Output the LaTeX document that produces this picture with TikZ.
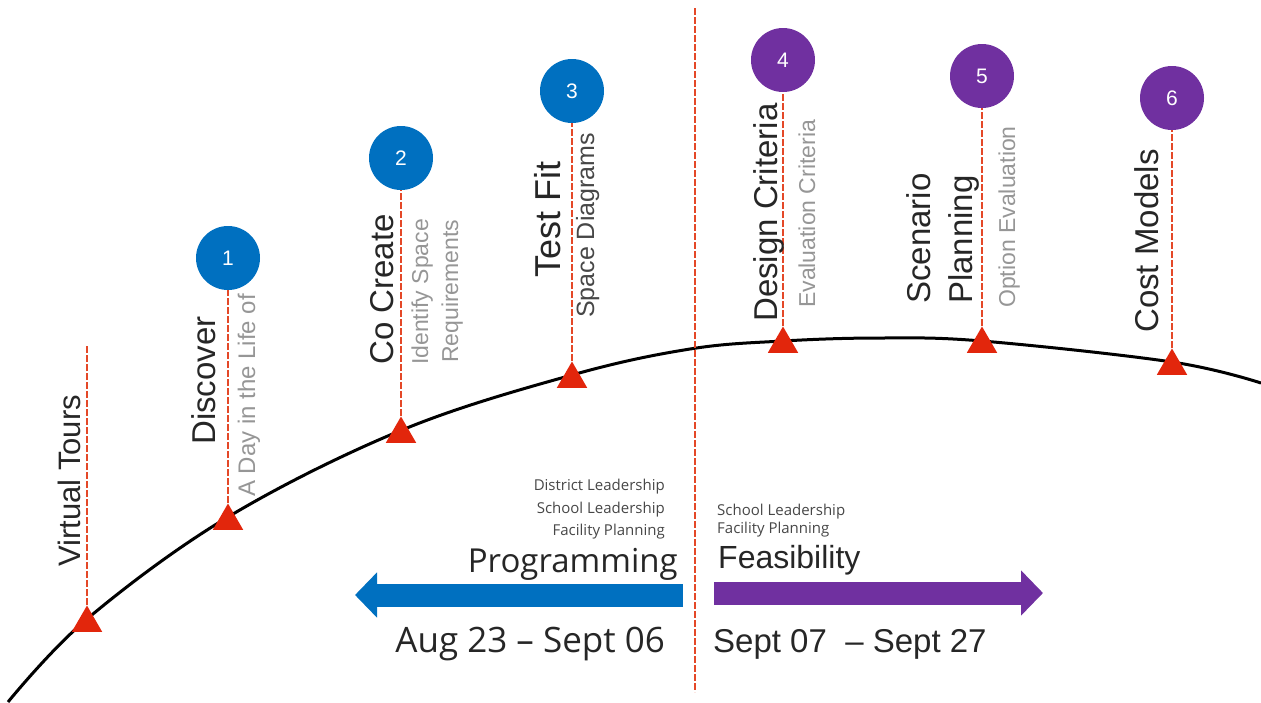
\documentclass[tikz,border=0pt]{standalone}
\usepackage{fontspec}
\setmainfont{Liberation Sans}
\newfontfamily\segoe{Open Sans}
\usepackage{xcolor}
\usetikzlibrary{arrows.meta, shapes.geometric}

\definecolor{stepblue}{RGB}{0,112,192}
\definecolor{steppurple}{RGB}{112,48,160}
\definecolor{stemred}{RGB}{228,72,40}
\definecolor{markred}{RGB}{226,38,12}
\definecolor{subgray}{RGB}{150,150,150}
\definecolor{textdark}{RGB}{38,38,38}

\begin{document}
\begin{tikzpicture}[
    x=1pt, y=-1pt,
    marker/.style={regular polygon, regular polygon sides=3, fill=markred, minimum size=35pt, inner sep=0pt},
    num/.style={circle, minimum size=64pt, inner sep=0pt, text=white, font=\fontsize{21}{24}\selectfont},
    stem/.style={draw=stemred, line width=2pt, dash pattern=on 7pt off 2pt},
    title/.style={rotate=90, anchor=base west, inner sep=0pt, text=textdark, font=\fontsize{33}{36}\selectfont},
    sub/.style={rotate=90, anchor=base west, inner sep=0pt, text=subgray, font=\fontsize{23}{26}\selectfont},
    team/.style={inner sep=0pt, text=textdark!85, font=\segoe\fontsize{15}{18}\selectfont},
    big/.style={inner sep=0pt, text=textdark},
    phase/.style={line width=23pt, -{Triangle[length=22pt, width=44pt]}}
]
\useasboundingbox (0,0) rectangle (1261,702);

\draw[line width=3pt] plot[smooth, tension=0.6] coordinates {(8,702) (87,619) (228,517) (402,430) (572,375) (690,349) (783,341) (880,338) (982,341) (1172,362) (1261,383)};

\node[marker] (m0) at (87,623) {};
\node[marker] (m1) at (228,521) {};
\node[marker] (m2) at (401,434) {};
\node[marker] (m3) at (572,379) {};
\node[marker] (m4) at (783,344) {};
\node[marker] (m5) at (982,344) {};
\node[marker] (m6) at (1172,366) {};

\node[num, fill=stepblue] (n1) at (228,258) {1};
\node[num, fill=stepblue] (n2) at (401,158) {2};
\node[num, fill=stepblue] (n3) at (572,91) {3};
\node[num, fill=steppurple] (n4) at (783,60) {4};
\node[num, fill=steppurple] (n5) at (982,76) {5};
\node[num, fill=steppurple] (n6) at (1172,98) {6};

\coordinate (top0) at (87,345);
\coordinate (divtop) at (695,8);
\coordinate (divbot) at (695,692);

\draw[stem] (m0.north) -- (top0);
\draw[stem] (m1.north) -- (n1.south);
\draw[stem] (m2.north) -- (n2.south);
\draw[stem] (m3.north) -- (n3.south);
\draw[stem] (m4.north) -- (n4.south);
\draw[stem] (m5.north) -- (n5.south);
\draw[stem] (m6.north) -- (n6.south);
\draw[stem] (divtop) -- (divbot);

\node[title, font=\fontsize{31}{34}\selectfont] (tours) at (80,567) {Virtual Tours};
\node[title] (disc) at (215,445) {Discover};
\node[sub, font=\fontsize{24}{27}\selectfont] (disc sub) at (255,497) {A Day in the Life of};
\node[title] (cocr) at (393,365) {Co Create};
\node[sub] (cocr sub1) at (428,365) {Identify Space};
\node[sub] (cocr sub2) at (458,363) {Requirements};
\node[title, font=\fontsize{36}{40}\selectfont] (test) at (560,278) {Test Fit};
\node[sub, text=textdark!85, font=\fontsize{25}{28}\selectfont] (test sub) at (594,318) {Space Diagrams};
\node[title] (desg) at (777,322) {Design Criteria};
\node[sub] (desg sub) at (815,308) {Evaluation Criteria};
\node[title] (scen1) at (930,304) {Scenario};
\node[title] (scen2) at (972,304) {Planning};
\node[sub] (scen sub) at (1015,308) {Option Evaluation};
\node[title] (cost) at (1158,333) {Cost Models};

\node[team, anchor=base east] (dl) at (665,490) {District Leadership};
\node[team, anchor=base east] (sl) at (665,513) {School Leadership};
\node[team, anchor=base east] (fp) at (665,535) {Facility Planning};
\node[big, anchor=base east, font=\segoe\fontsize{33}{36}\selectfont] (prog) at (678,572) {Programming};
\node[big, anchor=base east, font=\segoe\fontsize{35}{38}\selectfont] (prog date) at (665,652) {Aug 23 – Sept 06};

\node[team, anchor=base west] (sl2) at (717,515) {School Leadership};
\node[team, anchor=base west] (fp2) at (717,533) {Facility Planning};
\node[big, anchor=base west, font=\fontsize{32}{36}\selectfont] (feas) at (718,568) {Feasibility};
\node[big, anchor=base west, font=\fontsize{33}{36}\selectfont] (feas date) at (713,652) {Sept 07\ \ – Sept 27};

\coordinate (prog from) at (683,595);
\coordinate (prog to) at (355,595);
\coordinate (feas from) at (714,593);
\coordinate (feas to) at (1043,593);
\draw[phase, stepblue] (prog from) -- (prog to);
\draw[phase, steppurple] (feas from) -- (feas to);
\end{tikzpicture}
\end{document}
